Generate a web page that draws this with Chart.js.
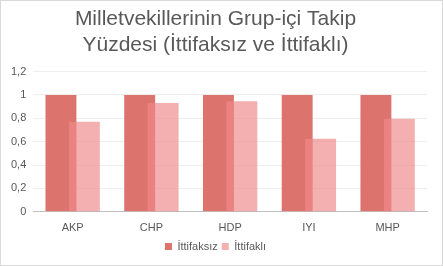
<!DOCTYPE html>
<html>
<head>
<meta charset="utf-8">
<script src="https://cdn.jsdelivr.net/npm/chart.js@4"></script>
<style>
  body { margin: 0; background: #fff; }
  #wrap { position: relative; width: 443px; height: 266px; box-sizing: border-box; border: 1px solid #d9d9d9; }
</style>
</head>
<body>
<div id="wrap"><canvas id="chartTakip"></canvas></div>
<script>
// parties
var parties = ["AKP", "CHP", "HDP", "IYI", "MHP"];
// share of votes following group line
var ittifaksiz = [1, 1, 1, 1, 1];
var ittifakli = [0.77, 0.93, 0.945, 0.625, 0.795];
var titleLines = ["Milletvekillerinin Grup-içi Takip", "Yüzdesi (İttifaksız ve İttifaklı)"];

var grey = "#595959";

// chart.js paints the first dataset last; we want the second one on top (overlapping bars)
var topLast = {
  id: 'topLast',
  beforeDatasetDraw: function(chart, args) {
    if (args.index === 1 && !chart.$drawingTop) return false;
  },
  afterDatasetsDraw: function(chart) {
    chart.$drawingTop = true;
    chart.getDatasetMeta(1).controller.draw();
    chart.$drawingTop = false;
  }
};

var ctx = document.getElementById("chartTakip").getContext("2d");
new Chart(ctx, {
  type: 'bar',
  data: {
    labels: parties,
    datasets: [
      {
        label: "İttifaksız",
        data: ittifaksiz,
        backgroundColor: "#dc736d",
        categoryPercentage: 0.595,
        barPercentage: 1.32
      },
      {
        label: "İttifaklı",
        data: ittifakli,
        backgroundColor: "rgba(239,137,137,0.67)",
        categoryPercentage: 0.595,
        barPercentage: 1.32
      }
    ]
  },
  options: {
    responsive: true,
    maintainAspectRatio: false,
    animation: false,
    layout: { padding: { left: 3, right: 15, top: 5, bottom: 3 } },
    plugins: {
      title: {
        display: true,
        text: titleLines,
        color: grey,
        font: { family: "Liberation Sans", size: 21, weight: 'normal', lineHeight: 1.25 },
        padding: { top: 0, bottom: 13 }
      },
      legend: {
        position: 'bottom',
        labels: {
          color: grey,
          font: { family: "Liberation Sans", size: 11 },
          boxWidth: 7,
          boxHeight: 7,
          padding: 4
        }
      },
      tooltip: { enabled: false }
    },
    scales: {
      x: {
        grid: { display: false },
        border: { color: "#bfbfbf" },
        ticks: { color: grey, padding: 2, font: { family: "Liberation Sans", size: 11 } }
      },
      y: {
        min: 0,
        max: 1.2,
        ticks: {
          stepSize: 0.2,
          color: grey,
          padding: 7,
          font: { family: "Liberation Sans", size: 11 },
          callback: function(v) { return (Math.round(v * 10) / 10).toString().replace(".", ","); }
        },
        grid: { color: "#eeeeee", drawTicks: false },
        border: { display: false }
      }
    }
  },
  plugins: [topLast]
});
</script>
</body>
</html>
